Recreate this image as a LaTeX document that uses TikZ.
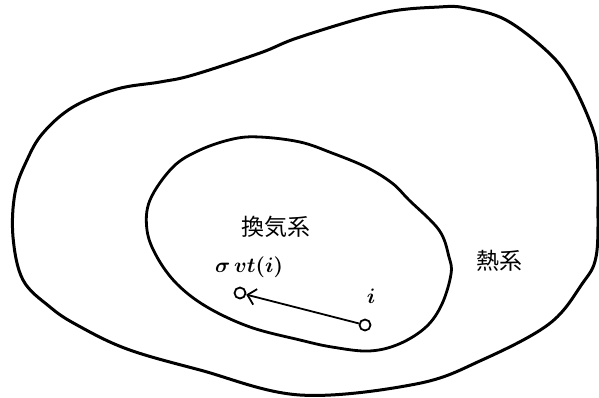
\documentclass[tikz,border=0pt]{standalone}
\usepackage{fontspec}
\newfontfamily\cjk{Noto Sans CJK JP}
\usetikzlibrary{arrows.meta}
\begin{document}
\begin{tikzpicture}[x=1pt,y=-1pt,
  contour/.style={line width=3pt,line join=round},
  pt/.style={circle,draw,line width=1.8pt,minimum size=11pt,inner sep=0pt},
  lbl/.style={inner sep=0pt,font=\cjk\fontsize{23}{25}\selectfont},
  mlbl/.style={inner sep=0pt,scale=2.1,font=\boldmath}]
\useasboundingbox (0,0) rectangle (599,397);
% outer region
\draw[contour] plot[smooth cycle,tension=0.6] coordinates {
 (15,193) (27,160) (43,133) (73,107) (117,89) (160,82) (193,75) (260,53)
 (300,37) (382,13) (439,7) (466,8) (506,20) (549,53) (572,83) (592,127)
 (597,153) (598,205) (596,257) (582,284) (549,324) (482,360) (416,384)
 (300,395) (200,370) (127,349) (77,325) (50,307) (23,280) (13,237)};
% inner region
\draw[contour,line width=2.8pt] plot[smooth cycle,tension=0.6] coordinates {
 (150,200) (173,167) (200,150) (233,139) (260,137) (300,142) (332,153)
 (366,167) (392,183) (409,200) (439,230) (449,257) (451,274) (442,304)
 (426,327) (399,344) (369,351) (332,347) (300,340) (250,327) (207,307)
 (177,284) (157,257) (147,230)};
\node[lbl] (kanki) at (276,227) {換気系};
\node[lbl] (netsu) at (499,261) {熱系};
\node[mlbl] (sig) at (249,267) {$\sigma\,vt(i)$};
\node[mlbl] (ilab) at (371,296) {$i$};
\node[pt] (a) at (240,293) {};
\node[pt] (b) at (365,325) {};
\draw[line width=1.8pt,-{Straight Barb[length=8pt,width=16pt,line width=1.8pt]}] (b) -- (a);
\end{tikzpicture}
\end{document}
